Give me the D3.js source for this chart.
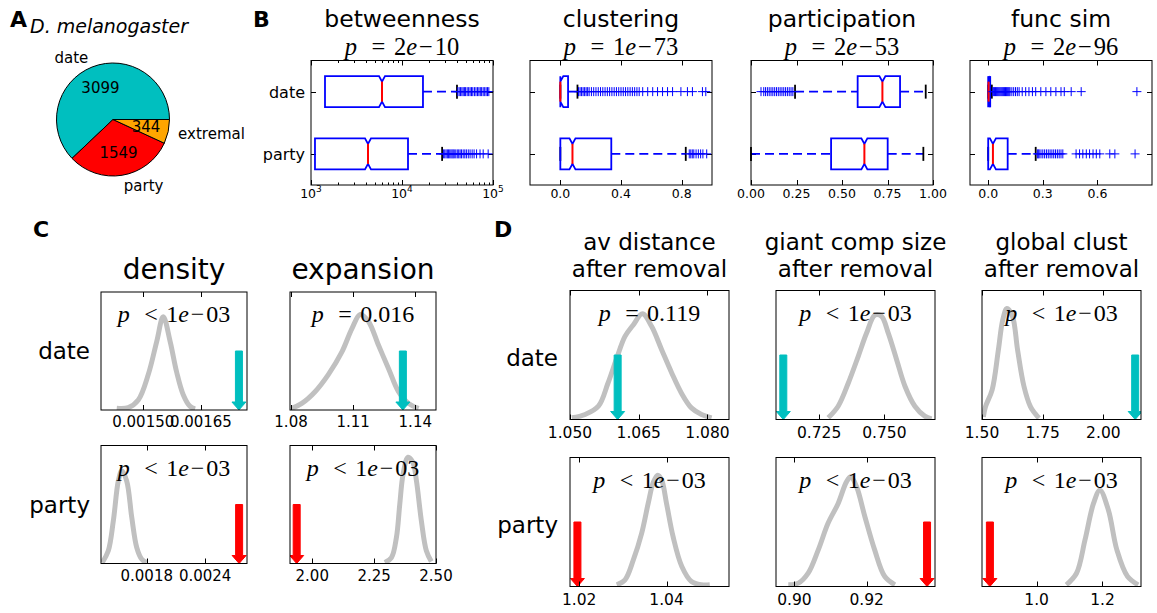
<!DOCTYPE html>
<html><head><meta charset="utf-8">
<script src="https://cdn.jsdelivr.net/npm/d3@7"></script>
<style>
body{margin:0;background:#fff}
svg{display:block}
text{font-family:"DejaVu Sans",sans-serif;fill:#000}
.math{font-family:"Liberation Serif",serif}
</style></head><body>
<svg id="fig" width="1157" height="613"></svg>
<script>
// ---------- data ----------
// A: class sizes
const pieLabels = ["date", "party", "extremal"];
const pieCounts = [3099, 1549, 344];
const pieColors = ["#00bfbf", "#ff0000", "#ffa500"];

// B: node properties, boxplots per group
const groups = ["date", "party"];
const boxMetrics = ["betweenness", "clustering", "participation", "func sim"];
const boxPValues = ["2e\u221210", "1e\u221273", "2e\u221253", "2e\u221296"];
// [lower whisker, q1, median, q3, upper whisker] for date, party
const betweennessStats = [[0, 1425, 6030, 17000, 40200], [0, 1106, 4230, 11640, 27600]];
const clusteringStats = [[0, 0, 0, 0.051, 0.113], [0, 0, 0.08, 0.336, 0.827]];
const participationStats = [[0.242, 0.586, 0.722, 0.819, 0.96], [0, 0.44, 0.623, 0.751, 0.947]];
const funcSimStats = [[0, 0, 0.002, 0.011, 0.02], [0, 0, 0.026, 0.107, 0.261]];
const betweennessOutliers = [
  [41000, 42500, 44000, 45500, 47000, 48500, 50000, 52000, 54000, 56000, 58000, 60000, 62500, 65000, 67500, 70000, 72500, 75000, 78000, 81000, 84000, 87000, 90000],
  [28500, 29500, 30500, 31500, 32500, 33500, 34500, 35500, 36500, 37500, 39000, 40500, 42000, 43500, 45000, 47000, 49000, 51000, 53500, 56000, 59000, 62000, 66000, 72000, 78000, 88500]
];
const clusteringOutliers = [
  [0.12, 0.13, 0.14, 0.15, 0.16, 0.17, 0.18, 0.19, 0.205, 0.22, 0.235, 0.25, 0.265, 0.28, 0.295, 0.31, 0.325, 0.34, 0.355, 0.37, 0.385, 0.40, 0.415, 0.43, 0.445, 0.46, 0.475, 0.49, 0.505, 0.52, 0.543, 0.576, 0.609, 0.641, 0.674, 0.707, 0.74, 0.795, 0.838, 0.871, 0.937, 0.959],
  [0.85, 0.86, 0.87, 0.88, 0.895, 0.91, 0.925, 0.94, 0.965]
];
const participationOutliers = [
  [0.055, 0.07, 0.08, 0.09, 0.1, 0.11, 0.12, 0.13, 0.14, 0.15, 0.16, 0.17, 0.18, 0.19, 0.2, 0.21, 0.22, 0.23],
  []
];
const funcSimOutliers = [
  [0.025, 0.03, 0.035, 0.04, 0.045, 0.05, 0.055, 0.06, 0.065, 0.07, 0.075, 0.08, 0.085, 0.09, 0.095, 0.1, 0.105, 0.11, 0.115, 0.12, 0.13, 0.14, 0.15, 0.16, 0.17, 0.187, 0.206, 0.224, 0.243, 0.261, 0.289, 0.317, 0.344, 0.372, 0.4, 0.418, 0.456, 0.511, 0.817],
  [0.27, 0.275, 0.28, 0.29, 0.3, 0.31, 0.32, 0.33, 0.34, 0.35, 0.36, 0.37, 0.38, 0.39, 0.4, 0.41, 0.483, 0.502, 0.52, 0.539, 0.557, 0.576, 0.594, 0.613, 0.668, 0.696, 0.807]
];
const boxRanges = [[1e3, 1e5], [-0.2, 1.0], [0, 1], [-0.1, 0.9]];
const boxTicks = [[1e3, 1e4, 1e5], [0, 0.4, 0.8], [0, 0.25, 0.5, 0.75, 1.0], [0, 0.3, 0.6]];
const boxTickLabels = [["3", "4", "5"], ["0.0", "0.4", "0.8"], ["0.00", "0.25", "0.50", "0.75", "1.00"], ["0.0", "0.3", "0.6"]];

// C: group-level measures vs. null distributions (rows: date, party)
const cMetrics = ["density", "expansion"];
const densityNull = [
  [[0.001431, 0.014], [0.001461, 0.02], [0.001487, 0.085], [0.001513, 0.30], [0.001535, 0.58], [0.001552, 0.79], [0.00157, 0.58], [0.001587, 0.32], [0.001604, 0.13], [0.001622, 0.03], [0.001635, 0.01]],
  [[0.001343, 0.008], [0.001405, 0.108], [0.001457, 0.363], [0.001508, 0.70], [0.001543, 0.786], [0.001594, 0.70], [0.001646, 0.39], [0.001697, 0.136], [0.001749, 0.036], [0.0018, 0.008]]
];
const expansionNull = [
  [[1.0803, 0.014], [1.0852, 0.056], [1.0916, 0.155], [1.098, 0.30], [1.1045, 0.49], [1.1094, 0.69], [1.1134, 0.81], [1.1174, 0.75], [1.1222, 0.55], [1.1271, 0.35], [1.1319, 0.155], [1.1367, 0.056], [1.1416, 0.014]],
  [[2.293, 0.008], [2.32, 0.05], [2.34, 0.22], [2.3535, 0.50], [2.367, 0.757], [2.387, 0.90], [2.407, 0.856], [2.421, 0.70], [2.441, 0.36], [2.461, 0.108], [2.481, 0.017]]
];
const densityObserved = [0.001749, 0.002749];
const expansionObserved = [1.134, 1.937];
const densityP = [["<", "1e\u221203"], ["<", "1e\u221203"]];
const expansionP = [["=", "0.016"], ["<", "1e\u221203"]];
const densityRange = [[0.00139, 0.00177], [0.00133, 0.00283]];
const expansionRange = [[1.0795, 1.15], [1.91, 2.5]];
const densityTicks = [[0.0015, 0.00165], [0.0018, 0.0024]];
const densityTickLabels = [["0.00150", "0.00165"], ["0.0018", "0.0024"]];
const expansionTicks = [[1.08, 1.11, 1.14], [2.0, 2.25, 2.5]];
const expansionTickLabels = [["1.08", "1.11", "1.14"], ["2.00", "2.25", "2.50"]];

// D: network measures after removing each group vs. null distributions
const dMetrics = [["av distance", "after removal"], ["giant comp size", "after removal"], ["global clust", "after removal"]];
const avDistanceNull = [
  [[1.0504, 0.013], [1.0533, 0.039], [1.0562, 0.103], [1.0583, 0.283], [1.0602, 0.476], [1.062, 0.644], [1.0638, 0.733], [1.0658, 0.819], [1.0678, 0.722], [1.07, 0.541], [1.0722, 0.361], [1.0743, 0.206], [1.0765, 0.09], [1.0787, 0.039], [1.0809, 0.013]],
  [[1.0286, 0.013], [1.0305, 0.052], [1.0324, 0.206], [1.0343, 0.412], [1.0358, 0.644], [1.037, 0.811], [1.038, 0.863], [1.0389, 0.824], [1.04, 0.644], [1.0415, 0.386], [1.0435, 0.155], [1.0457, 0.039], [1.048, 0.013], [1.0499, 0.013]]
];
const giantCompNull = [
  [[0.7285, 0.013], [0.7323, 0.103], [0.7362, 0.283], [0.74, 0.49], [0.7432, 0.67], [0.7464, 0.81], [0.7489, 0.80], [0.7515, 0.67], [0.7547, 0.464], [0.7579, 0.258], [0.7617, 0.103], [0.7655, 0.026], [0.7681, 0.005]],
  [[0.8983, 0.013], [0.9011, 0.026], [0.9038, 0.103], [0.9066, 0.284], [0.9093, 0.49], [0.9121, 0.644], [0.9144, 0.811], [0.9156, 0.85], [0.9172, 0.773], [0.9195, 0.541], [0.9222, 0.284], [0.925, 0.077], [0.9278, 0.013]]
];
const globalClustNull = [
  [[1.5058, 0.02], [1.5145, 0.10], [1.5418, 0.23], [1.5675, 0.54], [1.5853, 0.77], [1.6026, 0.86], [1.6254, 0.80], [1.6465, 0.54], [1.673, 0.256], [1.6995, 0.10], [1.717, 0.05], [1.7347, 0.01]],
  [[1.0902, 0.013], [1.1211, 0.103], [1.1469, 0.361], [1.1727, 0.644], [1.1921, 0.747], [1.2179, 0.593], [1.2437, 0.284], [1.2762, 0.077], [1.3084, 0.013]]
];
const avDistanceObserved = [1.0604, 1.0196];
const giantCompObserved = [0.7113, 0.9367];
const globalClustObserved = [2.131, 0.858];
const avDistanceP = [["=", "0.119"], ["<", "1e\u221203"]];
const giantCompP = [["<", "1e\u221203"], ["<", "1e\u221203"]];
const globalClustP = [["<", "1e\u221203"], ["<", "1e\u221203"]];
const avDistanceRange = [[1.05, 1.0847], [1.0179, 1.0543]];
const giantCompRange = [[0.7085, 0.7694], [0.8949, 0.9389]];
const globalClustRange = [[1.5, 2.155], [0.834, 1.317]];
const avDistanceTicks = [[1.05, 1.065, 1.08], [1.02, 1.04]];
const avDistanceTickLabels = [["1.050", "1.065", "1.080"], ["1.02", "1.04"]];
const giantCompTicks = [[0.725, 0.75], [0.9, 0.92]];
const giantCompTickLabels = [["0.725", "0.750"], ["0.90", "0.92"]];
const globalClustTicks = [[1.5, 1.75, 2.0], [1.0, 1.2]];
const globalClustTickLabels = [["1.50", "1.75", "2.00"], ["1.0", "1.2"]];

// ---------- drawing ----------
const svg = d3.select("#fig");
const groupColors = ["#00bfbf", "#ff0000"];
let clipId = 0;

function panelLetter(x, y, s) {
  svg.append("text").attr("x", x).attr("y", y).style("font-weight", "bold").style("font-size", "22px").text(s);
}

// math-style p-value label: p <rel> value
function pText(sel, cx, y, rel, val, size) {
  const t = sel.append("text").attr("class", "math").attr("x", cx).attr("y", y)
    .attr("text-anchor", "middle").style("font-size", size + "px");
  t.append("tspan").style("font-style", "italic").text("p");
  t.append("tspan").attr("dx", size * 0.6).text(rel);
  const m = val.match(/^([\d.]+)e(.)(.*)$/);
  if (m) {
    t.append("tspan").attr("dx", size * 0.35).text(m[1]);
    t.append("tspan").style("font-style", "italic").text("e");
    t.append("tspan").attr("dx", size * 0.08).text(m[2]);
    t.append("tspan").attr("dx", size * 0.08).text(m[3]);
  } else {
    t.append("tspan").attr("dx", size * 0.35).text(val);
  }
}

// ---- A: pie ----
(function () {
  const cx = 113, cy = 119.5, r = 56.5;
  const g = svg.append("g").attr("transform", `translate(${cx},${cy})`);
  const pie = d3.pie().sort(null).startAngle(Math.PI / 2).endAngle(Math.PI / 2 - 2 * Math.PI);
  const arcs = pie(pieCounts);
  const arc = d3.arc().innerRadius(0).outerRadius(r);
  g.selectAll("path").data(arcs).join("path")
    .attr("d", arc).attr("fill", (d, i) => pieColors[i]).attr("stroke", "#000").attr("stroke-width", 1);
  const inner = d3.arc().innerRadius(r * 0.6).outerRadius(r * 0.6);
  const outer = d3.arc().innerRadius(r * 1.18).outerRadius(r * 1.18);
  g.selectAll("text.num").data(arcs).join("text").attr("class", "num")
    .attr("x", d => inner.centroid(d)[0]).attr("y", d => inner.centroid(d)[1])
    .attr("dy", "0.36em").attr("text-anchor", "middle").style("font-size", "15px")
    .text(d => d.data);
  g.selectAll("text.lab").data(arcs).join("text").attr("class", "lab")
    .attr("x", d => outer.centroid(d)[0]).attr("y", d => outer.centroid(d)[1])
    .attr("dy", "0.36em").attr("text-anchor", d => outer.centroid(d)[0] < 0 ? "end" : "start")
    .style("font-size", "15px").text((d, i) => pieLabels[i]);
  panelLetter(10, 27, "A");
  svg.append("text").attr("x", 30).attr("y", 33).style("font-style", "italic").style("font-size", "19px").text("D. melanogaster");
})();

// ---- B: boxplots ----
(function () {
  panelLetter(253, 27, "B");
  const bX = [311, 530, 751, 970], bW = 182, bY = 60.5, bH = 124.5;
  const stats = [betweennessStats, clusteringStats, participationStats, funcSimStats];
  const outs = [betweennessOutliers, clusteringOutliers, participationOutliers, funcSimOutliers];
  const blue = "#0000ff";
  boxMetrics.forEach((name, k) => {
    const isLog = k === 0;
    const x = (isLog ? d3.scaleLog() : d3.scaleLinear()).domain(boxRanges[k]).range([bX[k], bX[k] + bW]);
    const y = d3.scalePoint().domain(groups).range([bY, bY + bH]).padding(0.5);
    const g = svg.append("g");
    const cx = bX[k] + bW / 2;
    g.append("text").attr("x", cx).attr("y", 26.5).attr("text-anchor", "middle").style("font-size", "23.5px").text(name);
    pText(g, cx, 55, "=", boxPValues[k], 24.5);
    // ticks
    const tk = g.append("g").attr("stroke", "#000").attr("stroke-width", 1);
    boxTicks[k].forEach(v => {
      const px = Math.round(x(v)) + 0.5;
      tk.append("line").attr("x1", px).attr("x2", px).attr("y1", bY + bH).attr("y2", bY + bH - 5);
      tk.append("line").attr("x1", px).attr("x2", px).attr("y1", bY).attr("y2", bY + 5);
    });
    if (isLog) {
      const minor = x.ticks().filter(v => !boxTicks[k].includes(v));
      minor.forEach(v => {
        const px = Math.round(x(v)) + 0.5;
        tk.append("line").attr("x1", px).attr("x2", px).attr("y1", bY + bH).attr("y2", bY + bH - 2.5);
        tk.append("line").attr("x1", px).attr("x2", px).attr("y1", bY).attr("y2", bY + 2.5);
      });
    }
    groups.forEach(gr => {
      const py = Math.round(y(gr)) + 0.5;
      tk.append("line").attr("x1", bX[k]).attr("x2", bX[k] + 5).attr("y1", py).attr("y2", py);
      tk.append("line").attr("x1", bX[k] + bW).attr("x2", bX[k] + bW - 5).attr("y1", py).attr("y2", py);
    });
    boxTicks[k].forEach((v, i) => {
      const t = g.append("text").attr("x", x(v)).attr("y", bY + bH + 13).attr("text-anchor", "middle").style("font-size", "12.5px");
      if (isLog) {
        t.append("tspan").text("10");
        t.append("tspan").attr("dy", -6).style("font-size", "9px").text(boxTickLabels[k][i]);
      } else t.text(boxTickLabels[k][i]);
    });
    // boxes
    groups.forEach((gr, j) => {
      const [lo, q1, med, q3, hi] = stats[k][j];
      const cy = y(gr), hh = 15.5, ind = 5.5, nw = 3;
      const ok = v => !isLog || v > 0;
      const wh = g.append("g").attr("stroke", blue).attr("stroke-width", 1.8).attr("stroke-dasharray", "9,5").attr("fill", "none");
      if (ok(lo) && lo < q1) wh.append("line").attr("x1", x(lo)).attr("x2", x(q1)).attr("y1", cy).attr("y2", cy);
      if (hi > q3) wh.append("line").attr("x1", x(q3)).attr("x2", x(hi)).attr("y1", cy).attr("y2", cy);
      [lo, hi].filter(ok).forEach(v => {
        g.append("line").attr("x1", x(v)).attr("x2", x(v)).attr("y1", cy - 7).attr("y2", cy + 7)
          .attr("stroke", "#000").attr("stroke-width", 1.8);
      });
      const xq1 = x(q1), xq3 = x(q3), xm = x(med);
      const nl = Math.max(xq1, xm - nw), nr = Math.min(xq3, xm + nw);
      const top = cy - hh, bot = cy + hh;
      const pts = [[xq1, top], [nl, top], [xm, top + ind], [nr, top], [xq3, top], [xq3, bot], [nr, bot], [xm, bot - ind], [nl, bot], [xq1, bot]];
      g.append("path").attr("d", d3.line()(pts) + "Z").attr("fill", "none").attr("stroke", blue).attr("stroke-width", 1.8);
      g.append("line").attr("x1", xm).attr("x2", xm).attr("y1", top + ind).attr("y2", bot - ind)
        .attr("stroke", "#ff0000").attr("stroke-width", 2);
      const s = 4.5;
      g.append("path").attr("stroke", blue).attr("stroke-width", 1).attr("fill", "none")
        .attr("d", outs[k][j].map(v => `M${x(v) - s},${cy}h${2 * s}M${x(v)},${cy - s}v${2 * s}`).join(""));
    });
    g.append("rect").attr("x", bX[k]).attr("y", bY).attr("width", bW).attr("height", bH)
      .attr("fill", "none").attr("stroke", "#000").attr("stroke-width", 1);
    if (k === 0) {
      groups.forEach(gr => {
        g.append("text").attr("x", 305).attr("y", y(gr) + 6).attr("text-anchor", "end").style("font-size", "16px").text(gr);
      });
    }
  });
})();

// ---- null-distribution panel ----
function nullPanel(x0, y0, w, h, domain, ticks, tickLabels, kde, obs, color, p, tickFont, labelGap) {
  const g = svg.append("g");
  const x = d3.scaleLinear().domain(domain).range([x0, x0 + w]);
  const y = d3.scaleLinear().domain([0, 1]).range([y0 + h, y0]);
  const id = "clip" + (clipId++);
  g.append("clipPath").attr("id", id).append("rect").attr("x", x0).attr("y", y0).attr("width", w).attr("height", h);
  const body = g.append("g").attr("clip-path", `url(#${id})`);
  body.append("path").datum(kde)
    .attr("d", d3.line().x(d => x(d[0])).y(d => y(d[1])).curve(d3.curveCatmullRom.alpha(0.5)))
    .attr("fill", "none").attr("stroke", "#c0c0c0").attr("stroke-width", 5);
  const ax = x(obs), t = y(0.5), b = y(0);
  const sw = 3.5, hw = 7, hl = 8;
  body.append("path")
    .attr("d", d3.line()([[ax - sw, t], [ax + sw, t], [ax + sw, b - hl], [ax + hw, b - hl], [ax, b], [ax - hw, b - hl], [ax - sw, b - hl]]) + "Z")
    .attr("fill", color).attr("stroke", color).attr("stroke-width", 1);
  const tk = g.append("g").attr("stroke", "#000").attr("stroke-width", 1);
  ticks.forEach((v, i) => {
    const px = Math.round(x(v)) + 0.5;
    tk.append("line").attr("x1", px).attr("x2", px).attr("y1", y0 + h).attr("y2", y0 + h - 5);
    tk.append("line").attr("x1", px).attr("x2", px).attr("y1", y0).attr("y2", y0 + 5);
    g.append("text").attr("x", x(v)).attr("y", y0 + h + labelGap).attr("text-anchor", "middle")
      .style("font-size", tickFont + "px").text(tickLabels[i]);
  });
  g.append("rect").attr("x", x0).attr("y", y0).attr("width", w).attr("height", h)
    .attr("fill", "none").attr("stroke", "#000").attr("stroke-width", 1);
  pText(g, x0 + w / 2, y0 + 30, p[0], p[1], 24);
}

// ---- C ----
(function () {
  panelLetter(33, 237, "C");
  const cX = [101, 290], cW = 146, cY = [292, 445.5], cH = 118;
  const sets = [
    [densityRange, densityTicks, densityTickLabels, densityNull, densityObserved, densityP],
    [expansionRange, expansionTicks, expansionTickLabels, expansionNull, expansionObserved, expansionP]
  ];
  cMetrics.forEach((m, i) => {
    svg.append("text").attr("x", cX[i] + cW / 2).attr("y", 279).attr("text-anchor", "middle").style("font-size", "28px").text(m);
    groups.forEach((gr, j) => {
      const s = sets[i];
      nullPanel(cX[i], cY[j], cW, cH, s[0][j], s[1][j], s[2][j], s[3][j], s[4][j], groupColors[j], s[5][j], 15, 17);
    });
  });
  groups.forEach((gr, j) => {
    svg.append("text").attr("x", 90).attr("y", cY[j] + cH / 2 + 8).attr("text-anchor", "end").style("font-size", "23px").text(gr);
  });
})();

// ---- D ----
(function () {
  panelLetter(494, 237, "D");
  const dX = [570, 776, 982], dW = 159, dY = [290.5, 457.5], dH = 129;
  const sets = [
    [avDistanceRange, avDistanceTicks, avDistanceTickLabels, avDistanceNull, avDistanceObserved, avDistanceP],
    [giantCompRange, giantCompTicks, giantCompTickLabels, giantCompNull, giantCompObserved, giantCompP],
    [globalClustRange, globalClustTicks, globalClustTickLabels, globalClustNull, globalClustObserved, globalClustP]
  ];
  dMetrics.forEach((m, i) => {
    m.forEach((line, l) => {
      svg.append("text").attr("x", dX[i] + dW / 2).attr("y", 250 + l * 27).attr("text-anchor", "middle").style("font-size", "23px").text(line);
    });
    groups.forEach((gr, j) => {
      const s = sets[i];
      nullPanel(dX[i], dY[j], dW, dH, s[0][j], s[1][j], s[2][j], s[3][j], s[4][j], groupColors[j], s[5][j], 15.5, 18);
    });
  });
  groups.forEach((gr, j) => {
    svg.append("text").attr("x", 558).attr("y", dY[j] + dH / 2 + 11).attr("text-anchor", "end").style("font-size", "23px").text(gr);
  });
})();
</script>
</body></html>
